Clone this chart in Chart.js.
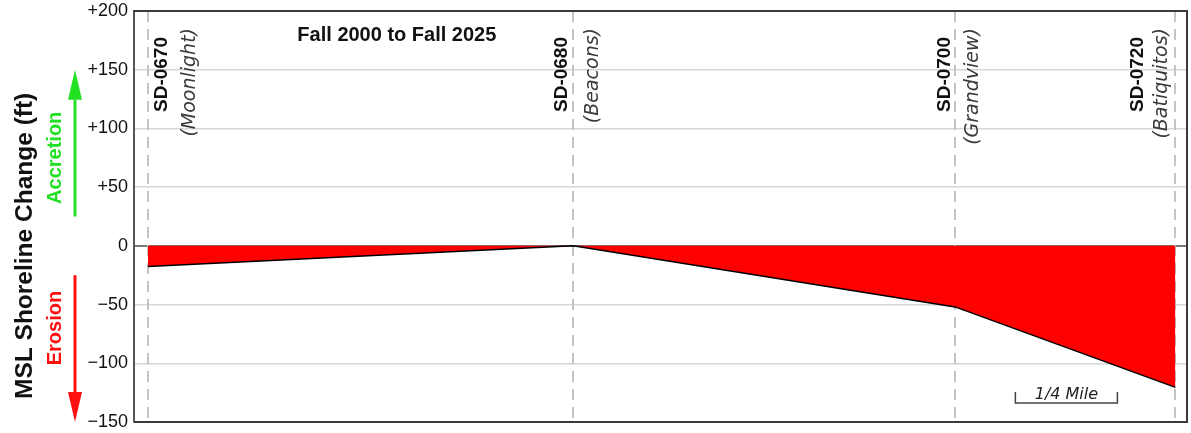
<!DOCTYPE html>
<html>
<head>
<meta charset="utf-8">
<title>MSL Shoreline Change</title>
<script src="https://cdn.jsdelivr.net/npm/chart.js@4.4.1/dist/chart.umd.min.js"></script>
<style>
  html, body { margin: 0; padding: 0; background: #fff; }
  #wrap { width: 1191px; height: 433px; }
</style>
</head>
<body>
<div id="wrap"><canvas id="myChart" width="1191" height="433"></canvas></div>
<script>
// alongshore distance (ft) of each transect, and the shoreline change there
const transects = ["SD-0670", "SD-0680", "SD-0700", "SD-0720"];
const transectNames = ["(Moonlight)", "(Beacons)", "(Grandview)", "(Batiquitos)"];
const transectPos = [180, 5680, 10620, 13470];
const shorelineChange = [-17.5, 0, -52, -120.5];
const yTicks = [-150, -100, -50, 0, 50, 100, 150, 200];
const xMax = 13620;
const scaleBarStart = 11400;
const scaleBarLength = 1320; // 1/4 mile in ft

// label offsets (px) from each dashed transect line
const codeOffsets = [14, -11, -10, -38];
const nameOffsets = [42, 20, 18, -13];

const FONT = "'Liberation Sans', Arial, sans-serif";
const NAME_FONT = "'DejaVu Sans', sans-serif";

const formatTick = (v) => {
  if (v > 0) return "+" + v;
  if (v < 0) return "\u2212" + Math.abs(v);
  return "0";
};

function drawArrow(ctx, x, yFrom, yTo, color) {
  const dir = yTo < yFrom ? 1 : -1;
  const headLen = 30;
  ctx.save();
  ctx.strokeStyle = color;
  ctx.fillStyle = color;
  ctx.lineWidth = 3;
  ctx.beginPath();
  ctx.moveTo(x, yFrom);
  ctx.lineTo(x, yTo + dir * headLen);
  ctx.stroke();
  ctx.beginPath();
  ctx.moveTo(x, yTo);
  ctx.lineTo(x - 7, yTo + dir * headLen);
  ctx.lineTo(x + 7, yTo + dir * headLen);
  ctx.closePath();
  ctx.fill();
  ctx.restore();
}

function rotatedText(ctx, text, x, y, font, color, align) {
  ctx.save();
  ctx.translate(x, y);
  ctx.rotate(-Math.PI / 2);
  ctx.font = font;
  ctx.fillStyle = color;
  ctx.textAlign = align;
  ctx.textBaseline = "middle";
  ctx.fillText(text, 0, 0);
  ctx.restore();
}

const transectLines = {
  id: "transectLines",
  beforeDatasetsDraw(chart) {
    const { ctx, chartArea, scales } = chart;
    ctx.save();
    ctx.strokeStyle = "#c4c4c4";
    ctx.lineWidth = 2;
    ctx.setLineDash([11, 7]);
    transectPos.forEach((p) => {
      const x = Math.round(scales.x.getPixelForValue(p));
      ctx.beginPath();
      ctx.moveTo(x, chartArea.top);
      ctx.lineTo(x, chartArea.bottom);
      ctx.stroke();
    });
    ctx.restore();
  },
  afterDraw(chart) {
    const { ctx, chartArea, scales } = chart;
    const { left, right, top, bottom } = chartArea;

    // frame
    ctx.save();
    ctx.strokeStyle = "#3a3a3a";
    ctx.lineWidth = 2;
    ctx.beginPath();
    ctx.moveTo(left, top);
    ctx.lineTo(right, top);
    ctx.lineTo(right, bottom);
    ctx.lineTo(left, bottom);
    ctx.stroke();
    ctx.restore();

    // transect labels
    transects.forEach((t, i) => {
      const x = scales.x.getPixelForValue(transectPos[i]);
      rotatedText(ctx, t, x + codeOffsets[i], 37, "bold 19px " + FONT, "#111", "right");
      rotatedText(ctx, transectNames[i], x + nameOffsets[i], 28, "oblique 19px " + NAME_FONT, "#3a3a3a", "right");
    });

    // title
    ctx.save();
    ctx.font = "bold 20px " + FONT;
    ctx.fillStyle = "#111";
    ctx.textAlign = "center";
    ctx.textBaseline = "middle";
    ctx.fillText("Fall 2000 to Fall 2025", scales.x.getPixelForValue(3400), 35);
    ctx.restore();

    // scale bar
    const x0 = scales.x.getPixelForValue(scaleBarStart);
    const x1 = scales.x.getPixelForValue(scaleBarStart + scaleBarLength);
    ctx.save();
    ctx.strokeStyle = "#444";
    ctx.lineWidth = 1.5;
    ctx.beginPath();
    ctx.moveTo(x0, 392);
    ctx.lineTo(x0, 403);
    ctx.lineTo(x1, 403);
    ctx.lineTo(x1, 392);
    ctx.stroke();
    ctx.font = "oblique 16px " + NAME_FONT;
    ctx.fillStyle = "#222";
    ctx.textAlign = "center";
    ctx.textBaseline = "middle";
    ctx.fillText("1/4 Mile", (x0 + x1) / 2, 395);
    ctx.restore();

    // axis title, accretion / erosion
    rotatedText(ctx, "MSL Shoreline Change (ft)", 25, scales.y.getPixelForValue(0), "bold 24.5px " + FONT, "#111", "center");
    rotatedText(ctx, "Accretion", 55, scales.y.getPixelForValue(75), "bold 20px " + FONT, "#22e022", "center");
    rotatedText(ctx, "Erosion", 55, scales.y.getPixelForValue(-70), "bold 20px " + FONT, "#ff1010", "center");
    drawArrow(ctx, 75, scales.y.getPixelForValue(25), scales.y.getPixelForValue(150), "#22e022");
    drawArrow(ctx, 75, scales.y.getPixelForValue(-25), bottom, "#ff1010");
  },
};

const ctx = document.getElementById("myChart").getContext("2d");
new Chart(ctx, {
  type: "line",
  data: {
    datasets: [
      {
        label: "MSL shoreline change",
        data: transectPos.map((x, i) => ({ x: x, y: shorelineChange[i] })),
        fill: "origin",
        backgroundColor: "#ff0000",
        borderColor: "#000",
        borderWidth: 1.5,
        pointRadius: 0,
        tension: 0,
      },
    ],
  },
  options: {
    responsive: false,
    animation: false,
    layout: { padding: { left: 0, top: 11, right: 4, bottom: 11 } },
    plugins: {
      legend: { display: false },
      tooltip: { enabled: false },
    },
    scales: {
      x: {
        type: "linear",
        min: 0,
        max: xMax,
        display: false,
      },
      y: {
        min: -150,
        max: 200,
        afterBuildTicks: (scale) => {
          scale.ticks = yTicks.map((v) => ({ value: v }));
        },
        afterFit: (scale) => {
          scale.width = 134;
          scale.paddingTop = 0;
          scale.paddingBottom = 0;
        },
        ticks: {
          callback: formatTick,
          padding: 6,
          color: "#111",
          font: { family: FONT, size: 18 },
        },
        grid: {
          drawTicks: false,
          color: (c) => (c.tick && c.tick.value === 0 ? "#7a7a7a" : "#d6d6d6"),
          lineWidth: (c) => (c.tick && c.tick.value === 0 ? 2 : 1.5),
        },
        border: { display: true, color: "#555", width: 2 },
      },
    },
  },
  plugins: [transectLines],
});
</script>
</body>
</html>
